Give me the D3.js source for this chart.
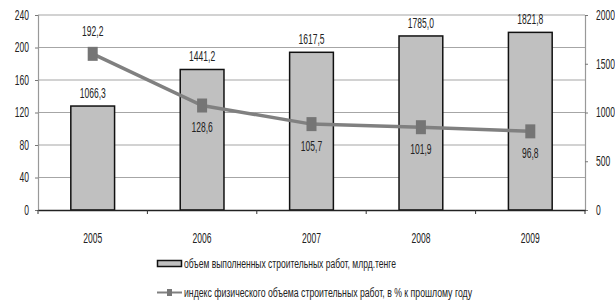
<!DOCTYPE html>
<html>
<head>
<meta charset="utf-8">
<script src="https://cdn.jsdelivr.net/npm/d3@7"></script>
<style>
  body { margin: 0; background: #fff; }
  svg { display: block; }
  text { font-family: "Liberation Sans", Arial, sans-serif; fill: #222; }
</style>
</head>
<body>
<svg width="615" height="308"></svg>
<script>
const years = ["2005", "2006", "2007", "2008", "2009"];
const volume = [1066.3, 1441.2, 1617.5, 1785.0, 1821.8]; // млрд. тенге, right axis
const index = [192.2, 128.6, 105.7, 101.9, 96.8]; // %, left axis
const leftTicks = [0, 40, 80, 120, 160, 200, 240];
const rightTicks = [0, 500, 1000, 1500, 2000];
const legendBar = "объем выполненных  строительных работ, млрд.тенге";
const legendLine = "индекс физического объема строительных работ, в % к прошлому году";

const svg = d3.select("svg");
const fmt = (v) => v.toFixed(1).replace(".", ",");

const x = d3.scaleBand().domain(years).range([38, 585]).paddingInner(0.6).paddingOuter(0.3);
const yL = d3.scaleLinear().domain([0, 240]).range([210, 15]);
const yR = d3.scaleLinear().domain([0, 2000]).range([210, 15]);

// narrow text helper (the source uses a condensed face)
function label(g, str, tx, ty, anchor, size, sx) {
  return g.append("text")
    .attr("transform", `translate(${tx},${ty}) scale(${sx},1)`)
    .attr("text-anchor", anchor)
    .attr("dominant-baseline", "central")
    .style("font-size", size + "px")
    .text(str);
}

// Gridlines
svg.append("g")
  .selectAll("line")
  .data(leftTicks.slice(1))
  .join("line")
  .attr("x1", 38).attr("x2", 585)
  .attr("y1", (d) => yL(d)).attr("y2", (d) => yL(d))
  .attr("stroke", "#a6a6a6").attr("stroke-width", 1.2);

// Left axis
const gl = svg.append("g").attr("transform", "translate(38,0)");
gl.call(d3.axisLeft(yL).tickValues(leftTicks).tickSize(3).tickFormat(""));
gl.select(".domain").attr("stroke", "#999").attr("stroke-width", 1.2);
gl.selectAll(".tick line").attr("stroke", "#777");
leftTicks.forEach((t) => label(svg, t, 29, yL(t), "end", 14, 0.61));

// Right axis
const gr = svg.append("g").attr("transform", "translate(585,0)");
gr.call(d3.axisRight(yR).tickValues(rightTicks).tickSize(3).tickFormat(""));
gr.select(".domain").attr("stroke", "#999").attr("stroke-width", 1.2);
gr.selectAll(".tick line").attr("stroke", "#777");
rightTicks.forEach((t) => label(svg, t, 596, yR(t), "start", 14, 0.61));

// Bars
svg.append("g")
  .selectAll("rect")
  .data(volume)
  .join("rect")
  .attr("x", (d, i) => x(years[i]))
  .attr("y", (d) => yR(d))
  .attr("width", x.bandwidth())
  .attr("height", (d) => yR(0) - yR(d))
  .attr("fill", "#c0c0c0")
  .attr("stroke", "#111")
  .attr("stroke-width", 1.5);

// X axis
const gx = svg.append("g").attr("transform", "translate(0,210)");
gx.call(d3.axisBottom(x).tickSize(0).tickFormat(""));
gx.select(".domain").attr("stroke", "#222").attr("stroke-width", 1.5);
const step = x.step();
gx.selectAll(".bt")
  .data(d3.range(6))
  .join("line")
  .attr("x1", (i) => 38 + i * step).attr("x2", (i) => 38 + i * step)
  .attr("y1", 0).attr("y2", 4)
  .attr("stroke", "#333");
years.forEach((yr) => label(svg, yr, x(yr) + x.bandwidth() / 2, 238, "middle", 14, 0.61));

// Bar value labels
volume.forEach((v, i) => label(svg, fmt(v), x(years[i]) + x.bandwidth() / 2, yR(v) - 13, "middle", 14, 0.61));

// Line
const cx = (i) => x(years[i]) + x.bandwidth() / 2;
const line = d3.line().x((d, i) => cx(i)).y((d) => yL(d));
svg.append("path")
  .datum(index)
  .attr("d", line)
  .attr("fill", "none")
  .attr("stroke", "#808080")
  .attr("stroke-width", 3.5);
svg.append("g")
  .selectAll("rect")
  .data(index)
  .join("rect")
  .attr("x", (d, i) => cx(i) - 5)
  .attr("y", (d) => yL(d) - 7)
  .attr("width", 10).attr("height", 14)
  .attr("fill", "#757575");
index.forEach((v, i) => {
  const dy = i === 0 ? -23 : 22;
  label(svg, fmt(v), cx(i), yL(v) + dy, "middle", 14, 0.61);
});

// Legend
const lg = svg.append("g");
lg.append("rect")
  .attr("x", 157.5).attr("y", 260.5).attr("width", 24).attr("height", 6)
  .attr("fill", "#c0c0c0").attr("stroke", "#111").attr("stroke-width", 1.5);
lg.append("text")
  .attr("x", 184).attr("y", 264)
  .attr("dominant-baseline", "central")
  .attr("textLength", 212).attr("lengthAdjust", "spacingAndGlyphs")
  .style("font-size", "12px")
  .text(legendBar);
lg.append("line")
  .attr("x1", 157).attr("x2", 182).attr("y1", 292.5).attr("y2", 292.5)
  .attr("stroke", "#808080").attr("stroke-width", 2);
lg.append("rect")
  .attr("x", 167).attr("y", 289).attr("width", 5).attr("height", 7)
  .attr("fill", "#777");
lg.append("text")
  .attr("x", 184).attr("y", 293)
  .attr("dominant-baseline", "central")
  .attr("textLength", 288).attr("lengthAdjust", "spacingAndGlyphs")
  .style("font-size", "12px")
  .text(legendLine);
</script>
</body>
</html>
